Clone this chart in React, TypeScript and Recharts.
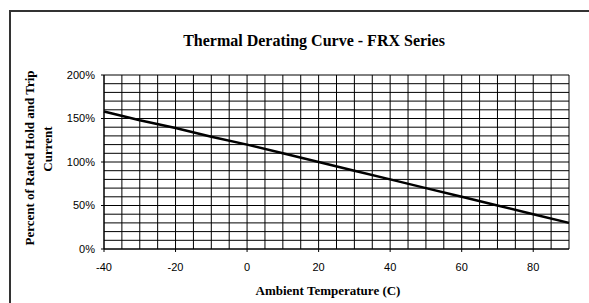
import React from 'react';
import { LineChart, Line, XAxis, YAxis, CartesianGrid, Customized } from 'recharts';

const temperatures = [-40, -30, -20, -10, 0, 10, 20, 30, 40, 50, 60, 70, 80, 90];
const percentValues = [158, 148, 139, 129, 120, 110, 100, 90, 80, 70, 60, 50, 40, 30];
const xTicks = [-40, -20, 0, 20, 40, 60, 80];
const yTicks = [0, 50, 100, 150, 200];
const xGridValues = [-40, -35, -30, -25, -20, -15, -10, -5, 0, 5, 10, 15, 20, 25, 30, 35, 40, 45, 50, 55, 60, 65, 70, 75, 80, 85, 90];
const yGridValues = [0, 10, 20, 30, 40, 50, 60, 70, 80, 90, 100, 110, 120, 130, 140, 150, 160, 170, 180, 190, 200];
const title = 'Thermal Derating Curve - FRX Series';
const xTitle = 'Ambient Temperature (C)';
const yTitleLines = ['Percent of Rated Hold and Trip', 'Current'];

const data = temperatures.map((t, i) => ({ t, v: percentValues[i] }));

const serif = '"Liberation Serif", "Times New Roman", serif';
const sans = '"Liberation Sans", Arial, sans-serif';

const Titles = () => (
  <g>
    <text x={314} y={40} textAnchor="middle" dominantBaseline="central" fontFamily={serif} fontWeight="bold" fontSize={16} fill="#000">
      {title}
    </text>
    <text x={328} y={290} textAnchor="middle" dominantBaseline="central" fontFamily={serif} fontWeight="bold" fontSize={13} fill="#000">
      {xTitle}
    </text>
    <text transform="translate(29,158) rotate(-90)" textAnchor="middle" dominantBaseline="central" fontFamily={serif} fontWeight="bold" fontSize={13} fill="#000">
      {yTitleLines[0]}
    </text>
    <text transform="translate(47,149) rotate(-90)" textAnchor="middle" dominantBaseline="central" fontFamily={serif} fontWeight="bold" fontSize={13} fill="#000">
      {yTitleLines[1]}
    </text>
  </g>
);

export default function App() {
  return (
    <div style={{ position: 'absolute', left: 0, top: 0, width: 589, height: 303, background: '#fff', overflow: 'hidden' }}>
      <div style={{ position: 'absolute', left: 9, top: 10, width: 700, height: 400, borderTop: '2px solid #333', borderLeft: '2px solid #333' }} />
      <div style={{ position: 'absolute', left: 0, top: 0 }}>
        <LineChart width={589} height={303} data={data} margin={{ top: 75, right: 20, bottom: 0, left: 0 }}>
          <CartesianGrid stroke="#000" strokeWidth={1} verticalValues={xGridValues} horizontalValues={yGridValues} />
          <XAxis
            dataKey="t"
            type="number"
            domain={[-40, 90]}
            ticks={xTicks}
            height={54}
            tickSize={3}
            tickMargin={11}
            axisLine={{ stroke: '#000' }}
            tickLine={{ stroke: '#000' }}
            tick={{ fill: '#000', fontSize: 11, fontFamily: sans }}
            interval={0}
          />
          <YAxis
            type="number"
            domain={[0, 200]}
            ticks={yTicks}
            width={104}
            tickSize={3}
            tickMargin={6}
            axisLine={{ stroke: '#000' }}
            tickLine={{ stroke: '#000' }}
            tick={{ fill: '#000', fontSize: 11, fontFamily: sans }}
            tickFormatter={(v: number) => `${v}%`}
            interval={0}
          />
          <Line type="linear" dataKey="v" stroke="#000" strokeWidth={2.5} dot={false} isAnimationActive={false} />
          <Customized component={Titles} />
        </LineChart>
      </div>
    </div>
  );
}
